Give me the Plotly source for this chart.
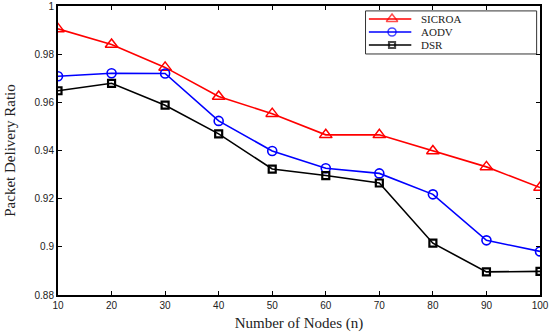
import plotly.graph_objects as go

nodes = [10, 20, 30, 40, 50, 60, 70, 80, 90, 100]
x_tick_text = ["10", "20", "30", "40", "50", "60", "70", "80", "90", "100"]
sicroa = [0.9905, 0.9840, 0.9745, 0.9624, 0.9553, 0.9465, 0.9465, 0.9398, 0.9332, 0.9246]
aodv = [0.9708, 0.9721, 0.9720, 0.9523, 0.9398, 0.9326, 0.9305, 0.9218, 0.9027, 0.8981]
dsr = [0.9648, 0.9679, 0.9588, 0.9469, 0.9323, 0.9296, 0.9265, 0.9015, 0.8896, 0.8898]
y_ticks = [0.88, 0.9, 0.92, 0.94, 0.96, 0.98, 1]
y_tick_text = ["0.88", "0.9", "0.92", "0.94", "0.96", "0.98", "1"]

series = [
    ("SICROA", sicroa, "#ff0000", "triangle-up-open", 11, 1.5),
    ("AODV", aodv, "#0000ff", "circle-open", 9, 1.6),
    ("DSR", dsr, "#000000", "square-open", 7, 2.2),
]

fig = go.Figure()
for name, vals, color, sym, msize, mlw in series:
    fig.add_trace(go.Scatter(
        x=nodes, y=vals, name=name, mode="lines+markers", showlegend=False,
        line=dict(color=color, width=1.6),
        marker=dict(symbol=sym, size=msize, color=color, line=dict(color=color, width=mlw)),
    ))

# legend box (manual, drawn on an overlay axis in plot-fraction units)
leg_rows = [0.955, 0.910, 0.865]
leg_x0, leg_xm, leg_x1, leg_tx = 0.645, 0.693, 0.733, 0.749
annotations = []
for (name, vals, color, sym, msize, mlw), ly in zip(series, leg_rows):
    fig.add_trace(go.Scatter(
        x=[leg_x0, leg_xm, leg_x1], y=[ly, ly, ly], mode="lines+markers",
        xaxis="x2", yaxis="y2", showlegend=False, hoverinfo="skip",
        line=dict(color=color, width=1.6),
        marker=dict(symbol=sym, size=[0, msize - 1, 0], color=color, line=dict(color=color, width=mlw)),
    ))
    annotations.append(dict(x=leg_tx, y=ly, xref="x2", yref="y2", text=name,
                            showarrow=False, xanchor="left", yanchor="middle",
                            font=dict(family="Liberation Serif, Times New Roman", size=11, color="#222")))

axis_common = dict(
    showline=True, linecolor="black", linewidth=2, mirror="ticks",
    ticks="inside", ticklen=4, tickcolor="black", tickwidth=1,
    showgrid=False, zeroline=False, automargin=False,
    tickfont=dict(family="Arial, Liberation Sans", size=10, color="#222"),
)

fig.update_layout(
    width=550, height=332,
    margin=dict(l=58, r=10, t=6, b=37, autoexpand=False),
    paper_bgcolor="white", plot_bgcolor="white",
    xaxis=dict(range=[10, 100], tickvals=nodes, ticktext=x_tick_text, ticklabeloverflow="allow",
               title=dict(text="Number of Nodes (n)",
                          font=dict(family="Liberation Serif, Times New Roman", size=15, color="#222")),
               **axis_common),
    yaxis=dict(range=[0.88, 1], tickvals=y_ticks, ticktext=y_tick_text,
               title=dict(text="Packet Delivery Ratio",
                          font=dict(family="Liberation Serif, Times New Roman", size=15, color="#222")),
               **axis_common),
    xaxis2=dict(overlaying="x", range=[0, 1], visible=False, anchor="y2"),
    yaxis2=dict(overlaying="y", range=[0, 1], visible=False, anchor="x2"),
    annotations=annotations,
    shapes=[dict(type="rect", xref="paper", yref="paper",
                 x0=0.638, x1=0.993, y0=0.834, y1=0.983,
                 line=dict(color="#333", width=1), fillcolor="white", layer="below")],
    showlegend=False,
)

fig.write_html("out.html", config={"displayModeBar": False})
with open("out.html", "r", encoding="utf-8") as f:
    html = f.read()
html = html.replace("<head>", "<head><style>html,body{margin:0;padding:0;overflow:hidden;}</style>", 1)
with open("out.html", "w", encoding="utf-8") as f:
    f.write(html)
